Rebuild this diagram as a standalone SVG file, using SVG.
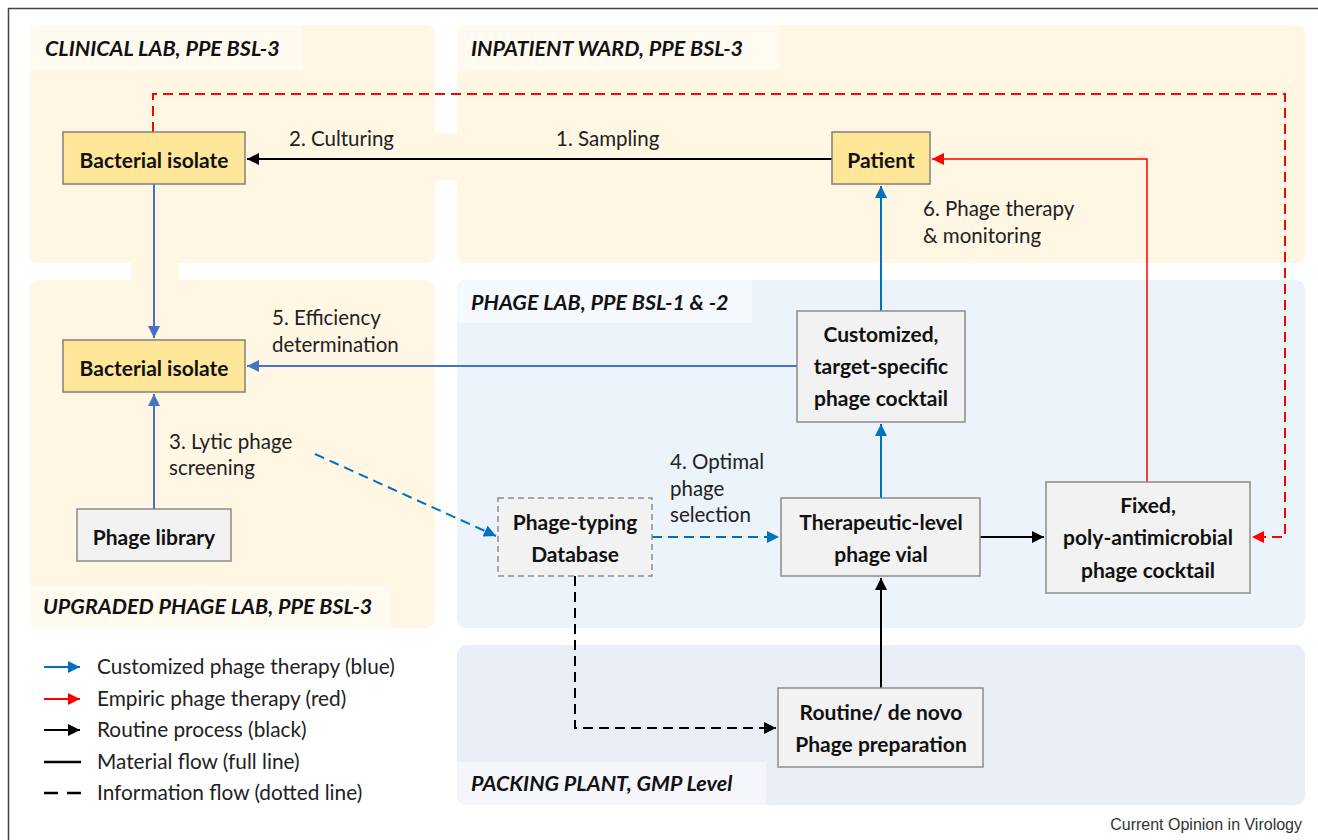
<svg xmlns="http://www.w3.org/2000/svg" width="1318" height="840" viewBox="0 0 1318 840">
<style>
.zy{fill:#fff6e3}
.zyl{fill:#fffaf0}
.zb{fill:#edf3fa}
.zbl{fill:#f5f8fc}
.zp{fill:#e9eef7}
.zpl{fill:#f4f6fb}
.zt{font-family:Lato,"Open Sans",sans-serif;font-weight:bold;font-style:italic;font-size:21.5px;fill:#111}
.ny{fill:#ffe699;stroke:#808080;stroke-width:1.5}
.ng{fill:#f2f2f2;stroke:#8c8c8c;stroke-width:1.5}
.nt{font-family:Lato,"Open Sans",sans-serif;font-weight:bold;font-size:21px;fill:#111;text-anchor:middle}
.lt{font-family:Lato,"Open Sans",sans-serif;font-size:20.5px;fill:#222}
.lg{font-family:Lato,"Open Sans",sans-serif;font-size:20.8px;fill:#222}
.k{fill:none;stroke:#000;stroke-width:2}
.b1{fill:none;stroke:#4472c4;stroke-width:2}
.b2{fill:none;stroke:#0070c0;stroke-width:2}
.r{fill:none;stroke:#ff0000;stroke-width:1.5}
.rd{fill:none;stroke:#ff0000;stroke-width:2;stroke-dasharray:10 6}
.bd{fill:none;stroke:#0070c0;stroke-width:2;stroke-dasharray:10 6}
.kd{fill:none;stroke:#000;stroke-width:2;stroke-dasharray:10 6}
</style>
<defs>
<marker id="mk" viewBox="0 0 10 10" refX="10" refY="5" markerWidth="12" markerHeight="12" markerUnits="userSpaceOnUse" orient="auto"><path d="M0,0 L10,5 L0,10 z" fill="#000"/></marker>
<marker id="mb1" viewBox="0 0 10 10" refX="10" refY="5" markerWidth="12" markerHeight="12" markerUnits="userSpaceOnUse" orient="auto"><path d="M0,0 L10,5 L0,10 z" fill="#4472c4"/></marker>
<marker id="mb2" viewBox="0 0 10 10" refX="10" refY="5" markerWidth="12" markerHeight="12" markerUnits="userSpaceOnUse" orient="auto"><path d="M0,0 L10,5 L0,10 z" fill="#0070c0"/></marker>
<marker id="mr" viewBox="0 0 10 10" refX="10" refY="5" markerWidth="12" markerHeight="12" markerUnits="userSpaceOnUse" orient="auto"><path d="M0,0 L10,5 L0,10 z" fill="#ff0000"/></marker>
</defs>
<rect x="0" y="0" width="1318" height="840" fill="#fff"/>
<path d="M8.5,840 V8.5 H1318" fill="none" stroke="#444" stroke-width="1.5"/>

<g id="zones">
<rect class="zy" x="30" y="25" width="405" height="238" rx="9"/>
<rect class="zy" x="131" y="258" width="47" height="27"/>
<rect class="zy" x="430" y="133" width="32" height="47"/>
<path class="zyl" d="M39,25 H303 V70 H30 V34 A9,9 0 0 1 39,25 z"/>
<text class="zt" x="45" y="56">CLINICAL LAB, PPE BSL-3</text>

<rect class="zy" x="457" y="25" width="848" height="238" rx="9"/>
<path class="zyl" d="M466,25 H780 V70 H457 V34 A9,9 0 0 1 466,25 z"/>
<text class="zt" x="471" y="56">INPATIENT WARD, PPE BSL-3</text>

<rect class="zy" x="30" y="280" width="405" height="348" rx="9"/>
<path class="zyl" d="M30,586 H391 V628 H39 A9,9 0 0 1 30,619 z"/>
<text class="zt" x="43" y="614">UPGRADED PHAGE LAB, PPE BSL-3</text>

<rect class="zb" x="457" y="280" width="848" height="348" rx="9"/>
<path class="zbl" d="M466,280 H752 V323 H457 V289 A9,9 0 0 1 466,280 z"/>
<text class="zt" x="471" y="310">PHAGE LAB, PPE BSL-1 &amp; -2</text>

<rect class="zp" x="457" y="645" width="848" height="160" rx="9"/>
<path class="zpl" d="M457,762 H766 V805 H466 A9,9 0 0 1 457,796 z"/>
<text class="zt" x="471" y="791">PACKING PLANT, GMP Level</text>
</g>

<g id="connectors">
<path class="rd" d="M153,132 V94 H1285 V537 H1252" marker-end="url(#mr)"/>
<path class="k" d="M832,159 H247" marker-end="url(#mk)"/>
<path class="r" d="M1147,482 V159 H932" marker-end="url(#mr)"/>
<path class="b1" d="M154,184 V338" marker-end="url(#mb1)"/>
<path class="b1" d="M154,509 V394" marker-end="url(#mb1)"/>
<path class="b1" d="M797,366 H247" marker-end="url(#mb1)"/>
<path class="b2" d="M881,311 V186" marker-end="url(#mb2)"/>
<path class="b2" d="M881,498 V424" marker-end="url(#mb2)"/>
<path class="bd" d="M315,454 L496,536" marker-end="url(#mb2)"/>
<path class="bd" d="M652,537 H779" marker-end="url(#mb2)"/>
<path class="k" d="M980,537 H1044" marker-end="url(#mk)"/>
<path class="k" d="M881,688 V578" marker-end="url(#mk)"/>
<path class="kd" d="M575,576 V728 H776" marker-end="url(#mk)"/>
<text class="lt" x="289" y="146">2. Culturing</text>
<text class="lt" x="556" y="146">1. Sampling</text>
<text class="lt" x="923" y="216">6. Phage therapy</text>
<text class="lt" x="923" y="243">&amp; monitoring</text>
<text class="lt" x="272" y="325">5. Efficiency</text>
<text class="lt" x="272" y="352">determination</text>
<text class="lt" x="169" y="449">3. Lytic phage</text>
<text class="lt" x="169" y="475">screening</text>
<text class="lt" x="670" y="469">4. Optimal</text>
<text class="lt" x="670" y="496">phage</text>
<text class="lt" x="670" y="522">selection</text>
</g>

<g id="n-bact1"><rect class="ny" x="63" y="132" width="182" height="52"/><text class="nt" x="154" y="168">Bacterial isolate</text></g>
<g id="n-patient"><rect class="ny" x="832" y="132" width="98" height="52"/><text class="nt" x="881" y="168">Patient</text></g>
<g id="n-bact2"><rect class="ny" x="63" y="340" width="182" height="52"/><text class="nt" x="154" y="376">Bacterial isolate</text></g>
<g id="n-library"><rect class="ng" x="77" y="509" width="154" height="52"/><text class="nt" x="154" y="545">Phage library</text></g>
<g id="n-custom"><rect class="ng" x="797" y="311" width="168" height="111"/><text class="nt" x="881" y="342">Customized,</text><text class="nt" x="881" y="374">target-specific</text><text class="nt" x="881" y="406">phage cocktail</text></g>
<g id="n-database"><rect x="498" y="498" width="154" height="78" fill="#f2f2f2" stroke="#8c8c8c" stroke-width="1.5" stroke-dasharray="6 4"/><text class="nt" x="575" y="530">Phage-typing</text><text class="nt" x="575" y="562">Database</text></g>
<g id="n-vial"><rect class="ng" x="781" y="498" width="199" height="78"/><text class="nt" x="881" y="530">Therapeutic-level</text><text class="nt" x="881" y="562">phage vial</text></g>
<g id="n-fixed"><rect class="ng" x="1046" y="482" width="204" height="111"/><text class="nt" x="1148" y="513">Fixed,</text><text class="nt" x="1148" y="545">poly-antimicrobial</text><text class="nt" x="1148" y="578">phage cocktail</text></g>
<g id="n-routine"><rect class="ng" x="778" y="688" width="205" height="79"/><text class="nt" x="881" y="720">Routine/ de novo</text><text class="nt" x="881" y="752">Phage preparation</text></g>

<g id="legend">
<path d="M44,667 H80" stroke="#0070c0" stroke-width="2" marker-end="url(#mb2)"/>
<path d="M44,699 H80" stroke="#ff0000" stroke-width="2" marker-end="url(#mr)"/>
<path d="M44,730 H80" stroke="#000" stroke-width="2" marker-end="url(#mk)"/>
<path d="M44,762 H81" stroke="#000" stroke-width="2.5"/>
<path d="M44,793 H81" stroke="#000" stroke-width="2.5" stroke-dasharray="14 9"/>
<text class="lg" x="97" y="674">Customized phage therapy (blue)</text>
<text class="lg" x="97" y="706">Empiric phage therapy (red)</text>
<text class="lg" x="97" y="737">Routine process (black)</text>
<text class="lg" x="97" y="769">Material flow (full line)</text>
<text class="lg" x="97" y="800">Information flow (dotted line)</text>
</g>
<text x="1302" y="830" font-family="'Liberation Sans',Arial,sans-serif" font-size="16" fill="#333" text-anchor="end">Current Opinion in Virology</text>
</svg>
